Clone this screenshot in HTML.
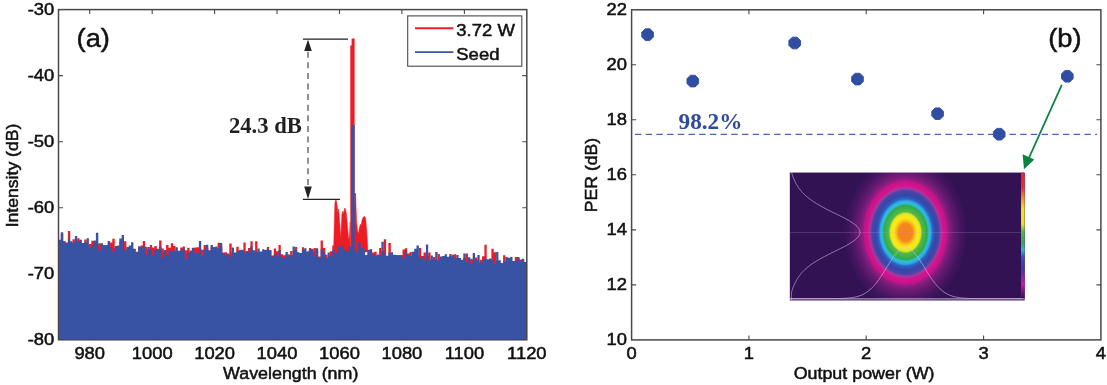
<!DOCTYPE html>
<html><head><meta charset="utf-8"><title>Figure</title><style>html,body{margin:0;padding:0;background:#fff}body{width:1107px;height:385px;overflow:hidden}</style></head><body>
<svg width="1107" height="385" viewBox="0 0 1107 385" style="display:block">
<defs>
<radialGradient id="beam" cx="0" cy="0" r="1" gradientUnits="userSpaceOnUse" gradientTransform="translate(905.5 232.5) scale(62 77)">
<stop offset="0" stop-color="#f4801f"/>
<stop offset="0.113" stop-color="#f5871f"/>
<stop offset="0.166" stop-color="#fbd115"/>
<stop offset="0.2" stop-color="#f8ec1c"/>
<stop offset="0.245" stop-color="#e4e61e"/>
<stop offset="0.27" stop-color="#55b947"/>
<stop offset="0.35" stop-color="#2faa4e"/>
<stop offset="0.378" stop-color="#2fbfd8"/>
<stop offset="0.41" stop-color="#2ea8e8"/>
<stop offset="0.437" stop-color="#2f62c4"/>
<stop offset="0.484" stop-color="#3348a8"/>
<stop offset="0.54" stop-color="#4a44a8"/>
<stop offset="0.572" stop-color="#a03ca0"/>
<stop offset="0.607" stop-color="#d8128c"/>
<stop offset="0.66" stop-color="#c4148a"/>
<stop offset="0.70" stop-color="#8a1c80"/>
<stop offset="0.78" stop-color="#641a70"/>
<stop offset="0.89" stop-color="#441560"/>
<stop offset="1" stop-color="#321252"/>
</radialGradient>
<linearGradient id="cbar" x1="0" y1="0" x2="0" y2="1">
<stop offset="0" stop-color="#ee1c25"/>
<stop offset="0.12" stop-color="#f0312a"/>
<stop offset="0.21" stop-color="#f7941d"/>
<stop offset="0.29" stop-color="#f7e017"/>
<stop offset="0.41" stop-color="#e6e21a"/>
<stop offset="0.47" stop-color="#4fb848"/>
<stop offset="0.56" stop-color="#2fae4d"/>
<stop offset="0.615" stop-color="#2bb6e6"/>
<stop offset="0.67" stop-color="#2f55c0"/>
<stop offset="0.75" stop-color="#3a38a8"/>
<stop offset="0.82" stop-color="#7a2aa8"/>
<stop offset="0.89" stop-color="#d0189a"/>
<stop offset="0.96" stop-color="#5a1a70"/>
<stop offset="1" stop-color="#351356"/>
</linearGradient>
<filter id="bl" x="-5%" y="-5%" width="110%" height="110%"><feGaussianBlur stdDeviation="1.2"/></filter>
<clipPath id="insetclip"><rect x="789.7" y="172.5" width="235" height="128"/></clipPath>
</defs>
<rect width="1107" height="385" fill="#fff"/>
<path d="M89.7,339.8v-4.5M89.7,9.6v4.5M152.2,339.8v-4.5M152.2,9.6v4.5M214.6,339.8v-4.5M214.6,9.6v4.5M277.0,339.8v-4.5M277.0,9.6v4.5M339.5,339.8v-4.5M339.5,9.6v4.5M401.9,339.8v-4.5M401.9,9.6v4.5M464.4,339.8v-4.5M464.4,9.6v4.5M58.5,75.6h4.5M526.8,75.6h-4.5M58.5,141.7h4.5M526.8,141.7h-4.5M58.5,207.7h4.5M526.8,207.7h-4.5M58.5,273.8h4.5M526.8,273.8h-4.5" stroke="#484848" stroke-width="1.1" fill="none"/>
<path d="M58.5,339.8V241.8H60.8V233.7H63.2V241.1H65.5V242.4H67.9V231.1H70.2V243.0H72.5V239.2H74.9V244.8H77.2V238.2H79.6V242.8H81.9V246.9H84.2V239.4H86.6V245.6H88.9V244.1H91.3V240.8H93.6V241.3H95.9V244.3H98.3V243.3H100.6V243.2H103.0V244.9H105.3V247.9H107.6V245.9H110.0V242.5H112.3V238.8H114.7V247.7H117.0V245.6H119.3V241.9H121.7V242.0H124.0V241.3H126.4V249.2H128.7V249.1H131.0V248.5H133.4V248.9H135.7V251.8H138.1V247.2H140.4V245.5H142.7V240.9H145.1V246.7H147.4V249.5H149.8V244.9H152.1V247.6H154.4V245.9H156.8V248.8H159.1V240.4H161.5V248.4H163.8V251.5H166.1V245.1H168.5V247.7H170.8V243.3H173.2V246.1H175.5V251.5H177.8V250.9H180.2V247.4H182.5V246.5H184.9V250.2H187.2V247.8H189.5V252.1H191.9V248.0H194.2V247.6H196.6V247.3H198.9V248.6H201.2V249.7H203.6V245.0H205.9V247.4H208.3V252.5H210.6V247.3H212.9V246.9H215.3V251.0H217.6V242.7H220.0V246.5H222.3V252.5H224.6V252.2H227.0V254.6H229.3V243.5H231.7V252.5H234.0V253.3H236.3V246.8H238.7V250.5H241.0V250.2H243.4V242.5H245.7V252.4H248.0V248.0H250.4V241.2H252.7V251.4H255.1V241.3H257.4V251.9H259.7V252.9H262.1V252.4H264.4V256.9H266.8V246.9H269.1V250.6H271.4V255.6H273.8V248.4H276.1V251.2H278.5V244.9H280.8V254.3H283.1V255.3H285.5V254.5H287.8V255.2H290.2V251.1H292.5V255.1H294.8V247.1H297.2V253.9H299.5V256.8H301.9V247.2H304.2V261.4H306.5V251.2H308.9V247.9H311.2V251.5H313.6V247.9H315.9V249.7H318.2V256.4H320.6V240.6H322.9V247.9H325.3V254.7H327.6V258.1H329.9V251.3H332.3V245.6H334.6V251.5H337.0V254.3H339.3V244.2H341.6V248.0H344.0V246.3H346.3V248.2H348.7V248.7H351.0V252.4H353.3V247.2H355.7V244.1H358.0V247.9H360.4V249.7H362.7V248.3H365.0V255.1H367.4V253.7H369.7V249.4H372.1V252.6H374.4V251.7H376.7V256.1H379.1V248.1H381.4V251.0H383.8V239.2H386.1V255.7H388.4V242.9H390.8V257.3H393.1V255.1H395.5V260.9H397.8V255.1H400.1V254.9H402.5V249.6H404.8V248.3H407.2V253.4H409.5V252.0H411.8V256.4H414.2V253.6H416.5V255.1H418.9V248.1H421.2V255.9H423.5V252.6H425.9V256.0H428.2V252.4H430.6V260.2H432.9V257.1H435.2V260.2H437.6V254.1H439.9V258.3H442.3V256.4H444.6V257.2H446.9V257.0H449.3V254.0H451.6V256.3H454.0V254.2H456.3V265.3H458.6V260.6H461.0V259.9H463.3V258.1H465.7V253.5H468.0V259.6H470.3V258.8H472.7V259.8H475.0V257.6H477.4V263.5H479.7V259.7H482.0V256.3H484.4V244.7H486.7V264.9H489.1V268.1H491.4V248.7H493.7V252.3H496.1V261.0H498.4V263.6H500.8V265.9H503.1V255.2H505.4V265.1H507.8V257.7H510.1V269.6H512.5V262.1H514.8V256.9H517.1V257.1H519.5V259.4H521.8V259.7H524.2V263.9H526.5V259.8H526.8V339.8Z" fill="#ed1c24"/>
<path d="M333.6,252.0L334.2,225.0L334.9,203.0L335.7,199.7L336.5,201.0L337.3,207.0L338.0,213.0L338.6,209.0L339.3,217.0L340.0,226.0L340.7,238.0L341.3,226.0L342.0,213.0L343.0,211.0L343.8,214.0L344.6,208.0L345.6,209.0L346.4,214.0L347.2,223.0L348.0,232.0L348.7,240.0L349.5,236.0L350.2,222.0L350.3,252.0L354.6,252.0L354.6,193.5L355.6,194.0L356.0,206.0L356.6,222.0L357.4,230.0L358.4,234.0L359.0,230.0L360.3,224.0L361.2,226.0L362.0,220.0L363.3,217.0L364.6,216.4L365.6,218.0L366.5,228.0L367.3,240.0L368.0,252.0Z" fill="#ed1c24" stroke="#ed1c24" stroke-width="0.5" stroke-linejoin="round"/>
<path d="M350.3,339.8V45.5H351.6V38.5H354.6V193H355.6V339.8Z" fill="#ed1c24"/>
<path d="M58.5,339.8V239.7H60.8V232.2H63.2V242.3H65.5V242.9H67.9V238.5H70.2V241.2H72.5V242.7H74.9V235.9H77.2V240.8H79.6V239.8H81.9V242.9H84.2V242.6H86.6V238.3H88.9V248.1H91.3V245.6H93.6V240.6H95.9V232.7H98.3V250.4H100.6V244.1H103.0V245.5H105.3V244.9H107.6V241.1H110.0V247.0H112.3V251.7H114.7V246.0H117.0V245.9H119.3V238.6H121.7V235.1H124.0V250.6H126.4V247.1H128.7V245.5H131.0V242.2H133.4V248.8H135.7V252.1H138.1V246.3H140.4V247.3H142.7V246.3H145.1V254.8H147.4V247.1H149.8V249.2H152.1V255.3H154.4V248.9H156.8V250.0H159.1V246.5H161.5V257.9H163.8V250.0H166.1V254.9H168.5V250.2H170.8V250.9H173.2V250.5H175.5V247.2H177.8V250.7H180.2V250.5H182.5V248.2H184.9V258.7H187.2V253.2H189.5V250.6H191.9V247.8H194.2V252.7H196.6V252.9H198.9V241.0H201.2V256.0H203.6V249.5H205.9V244.7H208.3V250.2H210.6V245.1H212.9V247.3H215.3V246.4H217.6V248.2H220.0V243.0H222.3V252.9H224.6V254.8H227.0V253.4H229.3V256.9H231.7V247.5H234.0V252.5H236.3V251.7H238.7V250.2H241.0V249.7H243.4V252.5H245.7V250.9H248.0V252.2H250.4V246.6H252.7V250.2H255.1V251.9H257.4V248.6H259.7V251.4H262.1V249.2H264.4V249.9H266.8V248.9H269.1V249.9H271.4V256.8H273.8V253.8H276.1V255.2H278.5V250.1H280.8V257.3H283.1V257.9H285.5V251.9H287.8V254.4H290.2V256.6H292.5V246.5H294.8V250.3H297.2V252.3H299.5V253.1H301.9V249.7H304.2V248.2H306.5V252.0H308.9V248.9H311.2V248.8H313.6V254.8H315.9V248.3H318.2V257.7H320.6V249.3H322.9V252.8H325.3V257.8H327.6V252.4H329.9V256.4H332.3V249.6H334.6V252.8H337.0V245.7H339.3V247.4H341.6V245.4H344.0V250.1H346.3V252.0H348.7V245.9H351.0V249.5H353.3V250.1H355.7V252.3H358.0V242.2H360.4V247.8H362.7V249.2H365.0V255.5H367.4V250.1H369.7V249.2H372.1V254.2H374.4V255.7H376.7V254.6H379.1V255.2H381.4V241.7H383.8V253.5H386.1V256.0H388.4V252.8H390.8V252.2H393.1V254.8H395.5V255.1H397.8V255.3H400.1V256.1H402.5V258.3H404.8V251.1H407.2V256.1H409.5V256.0H411.8V251.7H414.2V248.7H416.5V245.6H418.9V258.0H421.2V256.6H423.5V260.2H425.9V244.5H428.2V259.7H430.6V255.6H432.9V259.4H435.2V252.1H437.6V260.6H439.9V256.4H442.3V256.1H444.6V254.2H446.9V256.8H449.3V255.9H451.6V254.7H454.0V258.2H456.3V255.1H458.6V258.1H461.0V259.7H463.3V253.5H465.7V262.0H468.0V257.2H470.3V263.1H472.7V253.1H475.0V260.3H477.4V255.0H479.7V262.6H482.0V260.3H484.4V258.3H486.7V259.3H489.1V258.5H491.4V259.3H493.7V264.1H496.1V252.0H498.4V260.3H500.8V263.0H503.1V261.3H505.4V257.1H507.8V257.9H510.1V256.9H512.5V261.1H514.8V260.5H517.1V257.9H519.5V260.7H521.8V258.8H524.2V261.9H526.5V259.3H526.8V339.8Z" fill="#3953a4"/>
<rect x="351.2" y="125" width="3.5" height="214.8" fill="#3953a4"/>
<rect x="58.5" y="9.6" width="468.29999999999995" height="330.2" fill="none" stroke="#484848" stroke-width="1.5"/>
<g font-family="'Liberation Sans', Arial, Helvetica, sans-serif" fill="#111" stroke="#111" stroke-width="0.5">
<text transform="translate(89.7 359.2) scale(1.1 1)" text-anchor="middle" font-size="16.7" >980</text>
<text transform="translate(152.2 359.2) scale(1.1 1)" text-anchor="middle" font-size="16.7" >1000</text>
<text transform="translate(214.6 359.2) scale(1.1 1)" text-anchor="middle" font-size="16.7" >1020</text>
<text transform="translate(277.0 359.2) scale(1.1 1)" text-anchor="middle" font-size="16.7" >1040</text>
<text transform="translate(339.5 359.2) scale(1.1 1)" text-anchor="middle" font-size="16.7" >1060</text>
<text transform="translate(401.9 359.2) scale(1.1 1)" text-anchor="middle" font-size="16.7" >1080</text>
<text transform="translate(464.4 359.2) scale(1.1 1)" text-anchor="middle" font-size="16.7" >1100</text>
<text transform="translate(526.8 359.2) scale(1.1 1)" text-anchor="middle" font-size="16.7" >1120</text>
<text transform="translate(54.2 14.8) scale(1.1 1)" text-anchor="end" font-size="16.7" >-30</text>
<text transform="translate(54.2 80.8) scale(1.1 1)" text-anchor="end" font-size="16.7" >-40</text>
<text transform="translate(54.2 146.9) scale(1.1 1)" text-anchor="end" font-size="16.7" >-50</text>
<text transform="translate(54.2 212.9) scale(1.1 1)" text-anchor="end" font-size="16.7" >-60</text>
<text transform="translate(54.2 279.0) scale(1.1 1)" text-anchor="end" font-size="16.7" >-70</text>
<text transform="translate(54.2 345.0) scale(1.1 1)" text-anchor="end" font-size="16.7" >-80</text>
<text transform="translate(290.7 379.0) scale(1.07 1)" text-anchor="middle" font-size="16.7" >Wavelength (nm)</text>
<text transform="translate(17.7 175.5) rotate(-90) scale(1.055 1)" text-anchor="middle" font-size="16.7">Intensity (dB)</text>
<text transform="translate(76.6 47.2) scale(1.03 1)" text-anchor="start" font-size="26.5" >(a)</text>
<rect x="407.7" y="15.9" width="114.1" height="50.3" fill="#fff" stroke="#484848" stroke-width="1.1"/>
<path d="M415,28.3H453.4" stroke="#ed1c24" stroke-width="1.9"/><path d="M415,52.1H453.4" stroke="#3953a4" stroke-width="1.9"/>
<text transform="translate(456.3 35.9) scale(1.075 1)" text-anchor="start" font-size="17.2" >3.72 W</text>
<text transform="translate(456.3 59.7) scale(1.075 1)" text-anchor="start" font-size="17.2" >Seed</text>
<text transform="translate(631.6 359.2) scale(1.1 1)" text-anchor="middle" font-size="16.7" >0</text>
<text transform="translate(748.9 359.2) scale(1.1 1)" text-anchor="middle" font-size="16.7" >1</text>
<text transform="translate(866.2 359.2) scale(1.1 1)" text-anchor="middle" font-size="16.7" >2</text>
<text transform="translate(983.6 359.2) scale(1.1 1)" text-anchor="middle" font-size="16.7" >3</text>
<text transform="translate(1100.9 359.2) scale(1.1 1)" text-anchor="middle" font-size="16.7" >4</text>
<text transform="translate(627.0 345.1) scale(1.1 1)" text-anchor="end" font-size="16.7" >10</text>
<text transform="translate(627.0 290.1) scale(1.1 1)" text-anchor="end" font-size="16.7" >12</text>
<text transform="translate(627.0 235.1) scale(1.1 1)" text-anchor="end" font-size="16.7" >14</text>
<text transform="translate(627.0 180.0) scale(1.1 1)" text-anchor="end" font-size="16.7" >16</text>
<text transform="translate(627.0 125.0) scale(1.1 1)" text-anchor="end" font-size="16.7" >18</text>
<text transform="translate(627.0 70.0) scale(1.1 1)" text-anchor="end" font-size="16.7" >20</text>
<text transform="translate(627.0 15.0) scale(1.1 1)" text-anchor="end" font-size="16.7" >22</text>
<text transform="translate(864.1 379.0) scale(1.07 1)" text-anchor="middle" font-size="16.7" >Output power (W)</text>
<text transform="translate(597.4 175) rotate(-90) scale(1.055 1)" text-anchor="middle" font-size="16.7">PER (dB)</text>
<text transform="translate(1048.2 47.2) scale(1.03 1)" text-anchor="start" font-size="26.5" >(b)</text>
</g>
<rect x="631.6" y="9.8" width="469.30000000000007" height="330.09999999999997" fill="none" stroke="#484848" stroke-width="1.5"/>
<path d="M748.9,339.9v-4.5M748.9,9.8v4.5M866.2,339.9v-4.5M866.2,9.8v4.5M983.6,339.9v-4.5M983.6,9.8v4.5M631.6,284.9h4.5M1100.9,284.9h-4.5M631.6,229.9h4.5M1100.9,229.9h-4.5M631.6,174.8h4.5M1100.9,174.8h-4.5M631.6,119.8h4.5M1100.9,119.8h-4.5M631.6,64.8h4.5M1100.9,64.8h-4.5" stroke="#484848" stroke-width="1.1" fill="none"/>
<path d="M635,134.3H1097" stroke="#4a66b5" stroke-width="1.2" stroke-dasharray="6.4 4.3" fill="none"/>
<polygon points="653.42,37.01 650.01,40.42 645.19,40.42 641.78,37.01 641.78,32.19 645.19,28.78 650.01,28.78 653.42,32.19" fill="#2f4ea2" stroke="#2f4ea2" stroke-width="0.9" stroke-linejoin="round"/>
<polygon points="698.62,83.51 695.21,86.92 690.39,86.92 686.98,83.51 686.98,78.69 690.39,75.28 695.21,75.28 698.62,78.69" fill="#2f4ea2" stroke="#2f4ea2" stroke-width="0.9" stroke-linejoin="round"/>
<polygon points="800.52,45.41 797.11,48.82 792.29,48.82 788.88,45.41 788.88,40.59 792.29,37.18 797.11,37.18 800.52,40.59" fill="#2f4ea2" stroke="#2f4ea2" stroke-width="0.9" stroke-linejoin="round"/>
<polygon points="863.32,81.51 859.91,84.92 855.09,84.92 851.68,81.51 851.68,76.69 855.09,73.28 859.91,73.28 863.32,76.69" fill="#2f4ea2" stroke="#2f4ea2" stroke-width="0.9" stroke-linejoin="round"/>
<polygon points="943.42,116.11 940.01,119.52 935.19,119.52 931.78,116.11 931.78,111.29 935.19,107.88 940.01,107.88 943.42,111.29" fill="#2f4ea2" stroke="#2f4ea2" stroke-width="0.9" stroke-linejoin="round"/>
<polygon points="1005.02,136.61 1001.61,140.02 996.79,140.02 993.38,136.61 993.38,131.79 996.79,128.38 1001.61,128.38 1005.02,131.79" fill="#2f4ea2" stroke="#2f4ea2" stroke-width="0.9" stroke-linejoin="round"/>
<polygon points="1073.12,78.71 1069.71,82.12 1064.89,82.12 1061.48,78.71 1061.48,73.89 1064.89,70.48 1069.71,70.48 1073.12,73.89" fill="#2f4ea2" stroke="#2f4ea2" stroke-width="0.9" stroke-linejoin="round"/>
<text transform="translate(678.6 129.3) scale(1.045 1)" font-family="'Liberation Serif', 'Times New Roman', serif" font-weight="bold" font-size="22.2" fill="#2f4a9e">98.2%</text>
<text transform="translate(228.9 133) scale(1.012 1)" font-family="'Liberation Serif', 'Times New Roman', serif" font-weight="bold" font-size="22.4" fill="#231f20">24.3 dB</text>
<path d="M302.9,39.1H348M302.9,199.4H340" stroke="#222" stroke-width="1.2" fill="none"/>
<path d="M308,51.7V188" stroke="#555" stroke-width="1.3" stroke-dasharray="6 4.6" fill="none"/>
<path d="M308,39.5l3.8,11.5h-7.6zM308,199l3.8,-12.5h-7.6z" fill="#222"/>
<g clip-path="url(#insetclip)">
<rect x="789.7" y="172.5" width="235" height="128" fill="#321252"/>
<rect x="789.7" y="172.5" width="235" height="128" fill="url(#beam)"/>
<rect x="1021" y="172.5" width="3.8" height="126" fill="url(#cbar)"/>
<path d="M789.7,232.3H1021" stroke="#b9a3cf" stroke-width="0.6" opacity="0.45"/>
<polyline points="791.6,172.5 791.9,173.5 792.2,174.5 792.6,175.5 792.9,176.5 793.3,177.5 793.7,178.5 794.1,179.5 794.6,180.5 795.0,181.5 795.5,182.5 796.0,183.5 796.6,184.5 797.2,185.5 797.8,186.5 798.4,187.5 799.1,188.5 799.9,189.5 800.7,190.5 801.5,191.5 802.4,192.5 803.4,193.5 804.4,194.5 805.4,195.5 806.6,196.5 807.8,197.5 809.0,198.5 810.4,199.5 811.8,200.5 813.2,201.5 814.8,202.5 816.4,203.5 818.0,204.5 819.8,205.5 821.6,206.5 823.4,207.5 825.3,208.5 827.2,209.5 829.2,210.5 831.2,211.5 833.2,212.5 835.3,213.5 837.3,214.5 839.3,215.5 841.3,216.5 843.3,217.5 845.2,218.5 847.0,219.5 848.8,220.5 850.4,221.5 852.0,222.5 853.5,223.5 854.8,224.5 856.0,225.5 857.1,226.5 858.0,227.5 858.7,228.5 859.3,229.5 859.7,230.5 859.9,231.5 860.0,232.5 859.9,233.5 859.6,234.5 859.1,235.5 858.4,236.5 857.6,237.5 856.7,238.5 855.6,239.5 854.3,240.5 852.9,241.5 851.4,242.5 849.8,243.5 848.1,244.5 846.3,245.5 844.4,246.5 842.5,247.5 840.5,248.5 838.5,249.5 836.5,250.5 834.5,251.5 832.4,252.5 830.4,253.5 828.4,254.5 826.5,255.5 824.5,256.5 822.7,257.5 820.8,258.5 819.1,259.5 817.4,260.5 815.7,261.5 814.1,262.5 812.6,263.5 811.2,264.5 809.8,265.5 808.5,266.5 807.3,267.5 806.1,268.5 805.0,269.5 804.0,270.5 803.0,271.5 802.0,272.5 801.2,273.5 800.4,274.5 799.6,275.5 798.9,276.5 798.2,277.5 797.5,278.5 796.9,279.5 796.4,280.5 795.8,281.5 795.3,282.5 794.8,283.5 794.4,284.5 793.9,285.5 793.5,286.5 793.1,287.5 792.8,288.5 792.4,289.5 792.1,290.5 791.7,291.5 791.5,292.5 791.5,293.5 791.5,294.5 791.5,295.5 791.5,296.5 791.5,297.5 791.5,298.5 791.5,299.5 791.5,300.5" fill="none" stroke="#d4c2e6" stroke-width="0.85" opacity="0.7"/>
<polyline points="790.0,298.6 791.0,298.6 792.0,298.6 793.0,298.6 794.0,298.6 795.0,298.6 796.0,298.6 797.0,298.6 798.0,298.6 799.0,298.6 800.0,298.6 801.0,298.6 802.0,298.6 803.0,298.6 804.0,298.6 805.0,298.6 806.0,298.6 807.0,298.6 808.0,298.6 809.0,298.6 810.0,298.6 811.0,298.6 812.0,298.6 813.0,298.6 814.0,298.6 815.0,298.6 816.0,298.6 817.0,298.6 818.0,298.6 819.0,298.6 820.0,298.6 821.0,298.6 822.0,298.6 823.0,298.6 824.0,298.6 825.0,298.6 826.0,298.6 827.0,298.6 828.0,298.6 829.0,298.6 830.0,298.6 831.0,298.6 832.0,298.6 833.0,298.6 834.0,298.6 835.0,298.5 836.0,298.5 837.0,298.5 838.0,298.5 839.0,298.5 840.0,298.5 841.0,298.4 842.0,298.4 843.0,298.4 844.0,298.3 845.0,298.3 846.0,298.2 847.0,298.2 848.0,298.1 849.0,298.0 850.0,297.9 851.0,297.8 852.0,297.6 853.0,297.5 854.0,297.3 855.0,297.1 856.0,296.9 857.0,296.6 858.0,296.4 859.0,296.0 860.0,295.7 861.0,295.3 862.0,294.9 863.0,294.4 864.0,293.9 865.0,293.3 866.0,292.7 867.0,292.1 868.0,291.3 869.0,290.5 870.0,289.7 871.0,288.8 872.0,287.8 873.0,286.8 874.0,285.7 875.0,284.5 876.0,283.3 877.0,282.0 878.0,280.7 879.0,279.3 880.0,277.9 881.0,276.4 882.0,274.9 883.0,273.3 884.0,271.7 885.0,270.1 886.0,268.5 887.0,266.9 888.0,265.2 889.0,263.6 890.0,262.0 891.0,260.5 892.0,259.0 893.0,257.5 894.0,256.1 895.0,254.8 896.0,253.6 897.0,252.5 898.0,251.4 899.0,250.5 900.0,249.7 901.0,249.0 902.0,248.5 903.0,248.0 904.0,247.8 905.0,247.6 906.0,247.6 907.0,247.8 908.0,248.0 909.0,248.5 910.0,249.0 911.0,249.7 912.0,250.5 913.0,251.4 914.0,252.5 915.0,253.6 916.0,254.8 917.0,256.1 918.0,257.5 919.0,259.0 920.0,260.5 921.0,262.0 922.0,263.6 923.0,265.2 924.0,266.9 925.0,268.5 926.0,270.1 927.0,271.7 928.0,273.3 929.0,274.9 930.0,276.4 931.0,277.9 932.0,279.3 933.0,280.7 934.0,282.0 935.0,283.3 936.0,284.5 937.0,285.7 938.0,286.8 939.0,287.8 940.0,288.8 941.0,289.7 942.0,290.5 943.0,291.3 944.0,292.1 945.0,292.7 946.0,293.3 947.0,293.9 948.0,294.4 949.0,294.9 950.0,295.3 951.0,295.7 952.0,296.0 953.0,296.4 954.0,296.6 955.0,296.9 956.0,297.1 957.0,297.3 958.0,297.5 959.0,297.6 960.0,297.8 961.0,297.9 962.0,298.0 963.0,298.1 964.0,298.2 965.0,298.2 966.0,298.3 967.0,298.3 968.0,298.4 969.0,298.4 970.0,298.4 971.0,298.5 972.0,298.5 973.0,298.5 974.0,298.5 975.0,298.5 976.0,298.5 977.0,298.6 978.0,298.6 979.0,298.6 980.0,298.6 981.0,298.6 982.0,298.6 983.0,298.6 984.0,298.6 985.0,298.6 986.0,298.6 987.0,298.6 988.0,298.6 989.0,298.6 990.0,298.6 991.0,298.6 992.0,298.6 993.0,298.6 994.0,298.6 995.0,298.6 996.0,298.6 997.0,298.6 998.0,298.6 999.0,298.6 1000.0,298.6 1001.0,298.6 1002.0,298.6 1003.0,298.6 1004.0,298.6 1005.0,298.6 1006.0,298.6 1007.0,298.6 1008.0,298.6 1009.0,298.6 1010.0,298.6 1011.0,298.6 1012.0,298.6 1013.0,298.6 1014.0,298.6 1015.0,298.6 1016.0,298.6 1017.0,298.6 1018.0,298.6 1019.0,298.6 1020.0,298.6 1021.0,298.6 1022.0,298.6" fill="none" stroke="#d4c2e6" stroke-width="0.85" opacity="0.7"/>
<path d="M790,298.8H1024.8" stroke="#c9b4de" stroke-width="1.2" opacity="0.8"/>
</g>
<path d="M1061.8,84.8L1028,160" stroke="#0a8340" stroke-width="1.8" fill="none"/>
<path d="M1024,169.2L1022.6,154.3L1034.3,159.6z" fill="#0a8340"/>
</svg>
</body></html>
